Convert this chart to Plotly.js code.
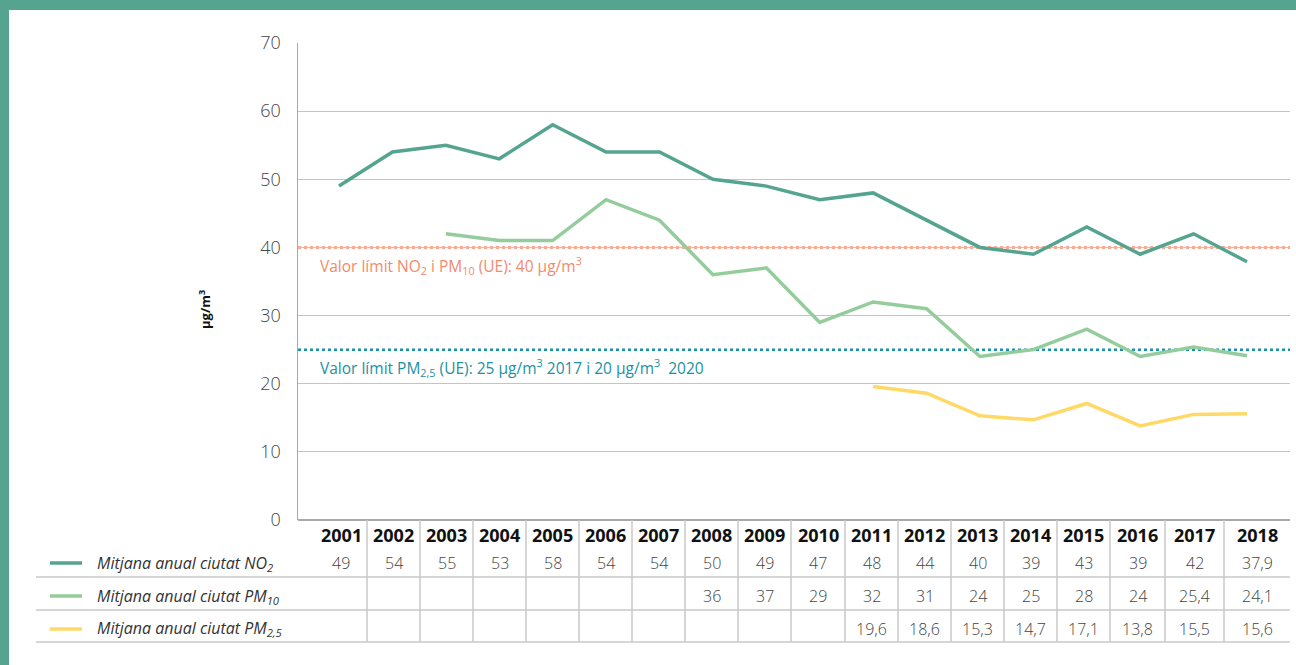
<!DOCTYPE html>
<html>
<head>
<meta charset="utf-8">
<script src="https://cdn.plot.ly/plotly-3.0.1.min.js"></script>
<style>
html,body{margin:0;padding:0;background:#fff;}
#chart{width:1296px;height:665px;}
</style>
</head>
<body>
<div id="chart"></div>
<script>
// ---- data ----
const years = [2001,2002,2003,2004,2005,2006,2007,2008,2009,2010,2011,2012,2013,2014,2015,2016,2017,2018];
const no2  = [49,54,55,53,58,54,54,50,49,47,48,44,40,39,43,39,42,37.9];
const pm10 = [null,null,42,41,41,47,44,36,37,29,32,31,24,25,28,24,25.4,24.1];
const pm25 = [null,null,null,null,null,null,null,null,null,null,19.6,18.6,15.3,14.7,17.1,13.8,15.5,15.6];
const pm10TableFrom = 2008;
const limitNO2PM10 = 40;
const limitPM25 = 25;
const seriesNames = ["Mitjana anual ciutat NO<sub>2</sub>", "Mitjana anual ciutat PM<sub>10</sub>", "Mitjana anual ciutat PM<sub>2,5</sub>"];
const limitLabel1 = "Valor límit NO<sub>2</sub> i PM<sub>10</sub> (UE): 40 µg/m<sup>3</sup>";
const limitLabel2 = "Valor límit PM<sub>2,5</sub> (UE): 25 µg/m<sup>3</sup> 2017 i 20 µg/m<sup>3</sup>  2020";
const yTitle = "µg/m<sup>3</sup>";

// ---- layout constants ----
const W = 1296, H = 665;
const PL = 298, PR = 1290, PT = 43, PB = 520;
const colEdges = [315,367,420,473,526,579,632,685,738,791,845,898,951,1004,1057,1110,1165,1224,1290];
const rowY = [535, 563, 596, 629];
const rowLines = [577, 610, 642];
const tableBottom = 642;
const colors = ["#55a48f", "#95cc9c", "#ffd966"];
const orange = "#f5896c", blue = "#1b91a3", grid = "#c4c4c4", border = "#55a48f";

const px = x => (x - PL) / (PR - PL);
const py = y => (PB - y) / (PB - PT);
const fmt = v => (v === null || v === undefined) ? "" : String(v).replace(".", ",");

const font = "'Open Sans', Roboto, sans-serif";

const traces = [no2, pm10, pm25].map((vals, i) => ({
  x: years, y: vals, type: "scatter", mode: "lines",
  line: {color: colors[i], width: 3.5}, connectgaps: false,
  hoverinfo: "x+y", showlegend: false
}));

const shapes = [];
const annotations = [];

// frame border (teal)
shapes.push({type:"rect", xref:"paper", yref:"paper", x0:px(0), x1:px(W), y0:py(0), y1:py(10), fillcolor:border, line:{width:0}, layer:"above"});
shapes.push({type:"rect", xref:"paper", yref:"paper", x0:px(0), x1:px(9), y0:py(0), y1:py(H), fillcolor:border, line:{width:0}, layer:"above"});

// limit lines
shapes.push({type:"line", xref:"paper", yref:"y", x0:0, x1:1, y0:limitNO2PM10, y1:limitNO2PM10, line:{color:orange, width:2.5, dash:"dot"}, layer:"below"});
shapes.push({type:"line", xref:"paper", yref:"y", x0:0, x1:1, y0:limitPM25, y1:limitPM25, line:{color:blue, width:2.5, dash:"dot"}, layer:"below"});

annotations.push({xref:"paper", yref:"y", x:px(318), y:limitNO2PM10, yshift:-18, xanchor:"left", yanchor:"middle", text:limitLabel1, showarrow:false, font:{family:font, size:15.5, color:orange}});
annotations.push({xref:"paper", yref:"y", x:px(318), y:limitPM25, yshift:-18, xanchor:"left", yanchor:"middle", text:limitLabel2, showarrow:false, font:{family:font, size:15.5, color:blue}});

// y title
annotations.push({xref:"paper", yref:"paper", x:px(204), y:py(310), xanchor:"center", yanchor:"middle", text:"<b>"+yTitle+"</b>", textangle:-90, showarrow:false, font:{family:font, size:13, color:"#111"}});

// table lines
rowLines.forEach(yy => shapes.push({type:"line", xref:"paper", yref:"paper", x0:px(36), x1:px(PR), y0:py(yy), y1:py(yy), line:{color:"#c8c8c8", width:1.5}}));
for (let i = 1; i < colEdges.length - 1; i++) {
  shapes.push({type:"line", xref:"paper", yref:"paper", x0:px(colEdges[i]), x1:px(colEdges[i]), y0:py(PB), y1:py(tableBottom), line:{color:"#c8c8c8", width:1.5}});
}

// table text
const tableRows = [
  no2,
  pm10.map((v, i) => years[i] >= pm10TableFrom ? v : null),
  pm25
];
years.forEach((yr, i) => {
  const cx = (colEdges[i] + colEdges[i+1]) / 2;
  annotations.push({xref:"paper", yref:"paper", x:px(cx), y:py(rowY[0]), text:"<b>"+yr+"</b>", showarrow:false, xanchor:"center", yanchor:"middle", font:{family:font, size:18, color:"#111"}});
  tableRows.forEach((row, r) => {
    const t = fmt(row[i]);
    if (t) annotations.push({xref:"paper", yref:"paper", x:px(cx), y:py(rowY[r+1]), text:t, showarrow:false, xanchor:"center", yanchor:"middle", font:{family:font, size:16, color:"#444", weight:300}});
  });
});

// legend rows
seriesNames.forEach((name, r) => {
  shapes.push({type:"line", xref:"paper", yref:"paper", x0:px(50), x1:px(82), y0:py(rowY[r+1]), y1:py(rowY[r+1]), line:{color:colors[r], width:3.5}});
  annotations.push({xref:"paper", yref:"paper", x:px(95), y:py(rowY[r+1]), text:"<i>"+name+"</i>", showarrow:false, xanchor:"left", yanchor:"middle", font:{family:font, size:16, color:"#333"}});
});

const layout = {
  width: W, height: H,
  margin: {l: PL, r: W - PR, t: PT, b: H - PB},
  paper_bgcolor: "#fff", plot_bgcolor: "#fff",
  showlegend: false,
  xaxis: {range: [2000.232, 2018.805], showticklabels: false, showgrid: false, zeroline: false, showline: false, ticks: ""},
  yaxis: {range: [0, 70], dtick: 10, tick0: 0, showgrid: true, gridcolor: grid, gridwidth: 1.2,
          zeroline: true, zerolinecolor: "#aaa", zerolinewidth: 1.5,
          showline: true, linecolor: "#aaa", linewidth: 1.5, ticks: "", ticklabelstandoff: 12,
          tickfont: {family: font, size: 18, color: "#444", weight: 300}},
  shapes: shapes,
  annotations: annotations
};

Plotly.newPlot("chart", traces, layout, {displayModeBar: false, staticPlot: true});
</script>
</body>
</html>
